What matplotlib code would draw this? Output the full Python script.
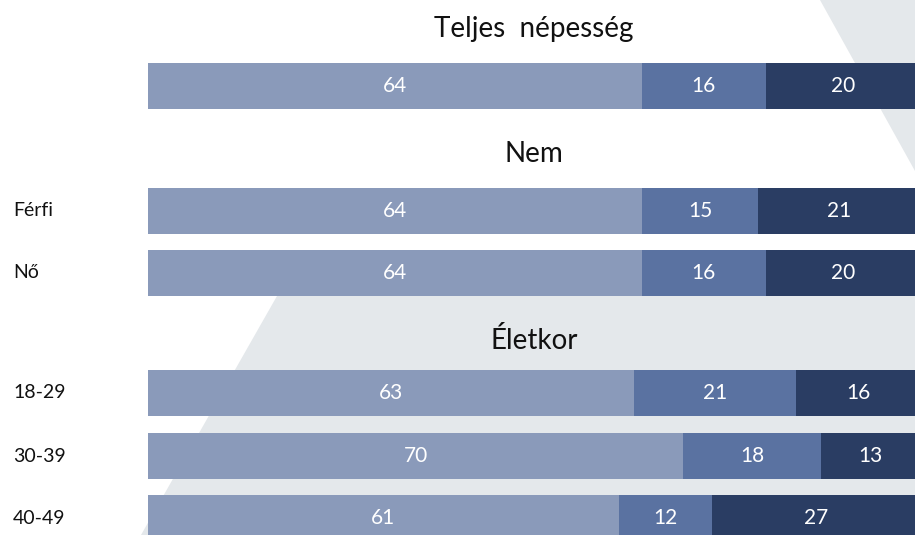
import matplotlib
matplotlib.use("Agg")
import matplotlib.pyplot as plt
from matplotlib.patches import Polygon

plt.rcParams['font.family'] = ['Lato', 'DejaVu Sans']

# data
labels = ["", "Férfi", "Nő", "18-29", "30-39", "40-49"]
seg1 = [64, 64, 64, 63, 70, 61]
seg2 = [16, 15, 16, 21, 18, 12]
seg3 = [20, 21, 20, 16, 13, 27]
titles = ["Teljes  népesség", "Nem", "Életkor"]

colors = ["#8A9ABA", "#5A72A1", "#2A3D63"]

# layout in pixels (figure is 915x535)
W, H = 915, 535
x0, unit = 148, 7.72
bar_y = [85.5, 211, 273, 393, 456, 518]
bar_h = 46
title_y = [37, 162, 349]

fig = plt.figure(figsize=(W / 100, H / 100), dpi=100)

# background shapes
bg = fig.add_axes([0, 0, 1, 1])
bg.set_xlim(0, W)
bg.set_ylim(H, 0)
bg.axis("off")
bg.add_patch(Polygon([(277, 296), (W, 296), (W, H), (141, H)], closed=True,
                     facecolor="#E4E8EB", edgecolor="none"))
bg.add_patch(Polygon([(820, 0), (W, 0), (W, 171)], closed=True,
                     facecolor="#E4E8EB", edgecolor="none"))

ax = fig.add_axes([0, 0, 1, 1])
ax.patch.set_alpha(0)
ax.set_xlim(-x0 / unit, (W - x0) / unit)
ax.set_ylim(H, 0)
ax.axis("off")

for i in range(len(labels)):
    vals = [seg1[i], seg2[i], seg3[i]]
    tot = sum(vals)
    left = 0
    for v, c in zip(vals, colors):
        w = v / tot * 100
        ax.barh(bar_y[i], w, left=left, height=bar_h, color=c, linewidth=0)
        ax.text(left + w / 2, bar_y[i], str(v), color="white", fontsize=15,
                ha="center", va="center")
        left += w
    if labels[i]:
        ax.text(-x0 / unit + 13 / unit, bar_y[i], labels[i], fontsize=14,
                ha="left", va="center", color="#111111")

for t, y in zip(titles, title_y):
    ax.text(50, y, t, fontsize=20, ha="center", va="baseline", color="#111111")

fig.savefig("out.png", dpi=100)
